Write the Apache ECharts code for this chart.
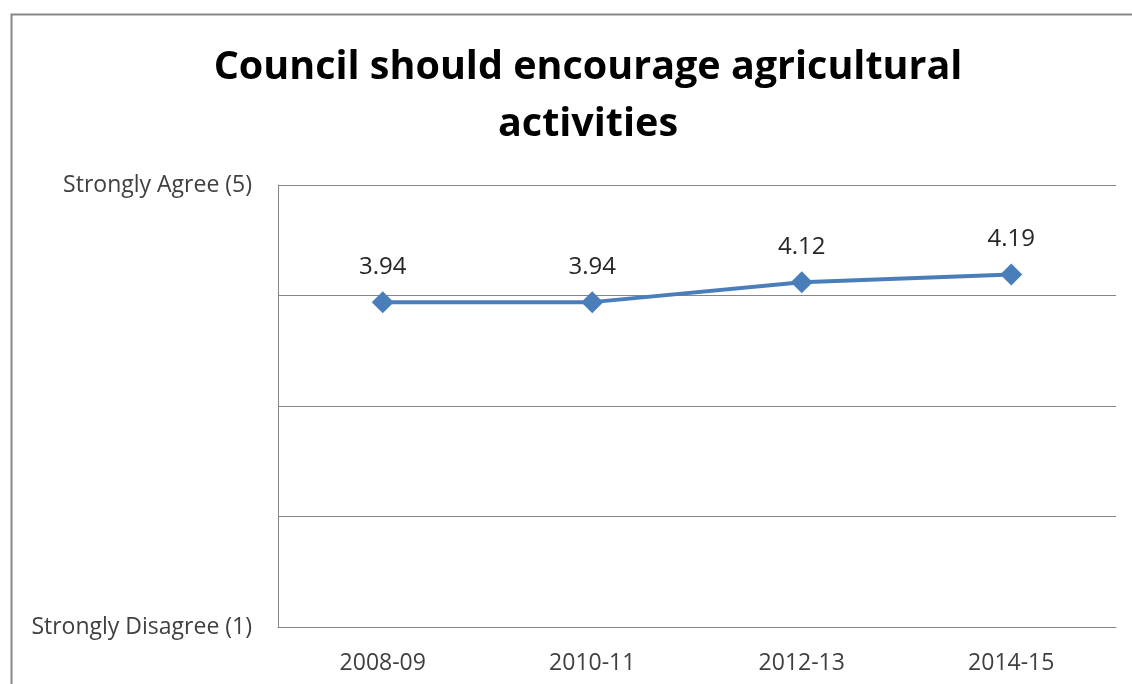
<!DOCTYPE html>
<html>
<head>
<meta charset="utf-8">
<style>
  html, body { margin: 0; padding: 0; background: #fff; }
  #chart { width: 1132px; height: 684px; }
</style>
<script src="https://cdn.jsdelivr.net/npm/echarts@6/dist/echarts.min.js"></script>
</head>
<body>
<div id="chart"></div>
<script>
const titleText = 'Council should encourage agricultural\nactivities';
const periods = ['2008-09', '2010-11', '2012-13', '2014-15'];
const scores = [3.94, 3.94, 4.12, 4.19];
const scaleLabels = { 5: 'Strongly Agree (5)', 1: 'Strongly Disagree (1)' };

const FONT = '"Open Sans", "Noto Sans", sans-serif';
const chart = echarts.init(document.getElementById('chart'), null, { renderer: 'canvas' });

chart.setOption({
  backgroundColor: '#ffffff',
  animation: false,
  title: {
    text: titleText,
    left: 583,
    textAlign: 'center',
    top: 34,
    textStyle: {
      fontFamily: FONT,
      fontWeight: 'bold',
      fontSize: 39.5,
      lineHeight: 57,
      color: '#000000'
    }
  },
  graphic: [{
    type: 'rect',
    shape: { x: 11.5, y: 14.5, width: 1300, height: 900 },
    style: { fill: 'none', stroke: '#878787', lineWidth: 2 },
    silent: true
  }],
  grid: { left: 278, right: 16, top: 185, bottom: 57, containLabel: false },
  xAxis: {
    type: 'category',
    data: periods,
    boundaryGap: true,
    axisLine: { show: true, lineStyle: { color: '#868686', width: 1 } },
    axisTick: { show: false },
    axisLabel: { fontFamily: FONT, fontSize: 23, color: '#404040', margin: 25 }
  },
  yAxis: {
    type: 'value',
    min: 1,
    max: 5,
    interval: 1,
    axisLine: { show: true, lineStyle: { color: '#868686', width: 1 } },
    axisTick: { show: false },
    splitLine: { show: true, lineStyle: { color: '#868686', width: 1 } },
    axisLabel: {
      fontFamily: FONT,
      fontSize: 23,
      color: '#404040',
      margin: 26,
      formatter: v => scaleLabels[v] || ''
    }
  },
  series: [{
    type: 'line',
    data: scores,
    symbol: 'diamond',
    symbolSize: 22,
    lineStyle: { color: '#4A7EBB', width: 4 },
    itemStyle: { color: '#4A7EBB' },
    label: {
      show: true,
      position: 'top',
      distance: 12,
      fontFamily: FONT,
      fontSize: 24,
      color: '#262626',
      formatter: p => p.value.toFixed(2)
    }
  }]
});
</script>
</body>
</html>
